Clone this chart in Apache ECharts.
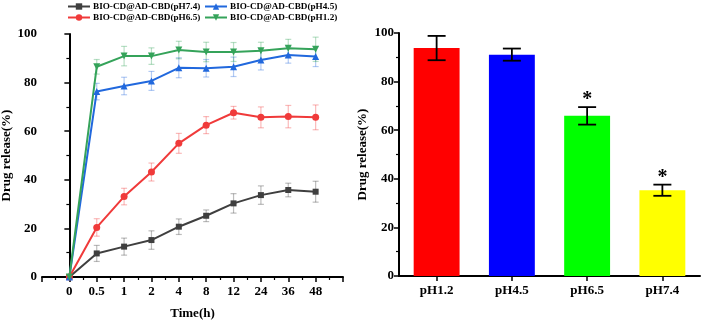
<!DOCTYPE html>
<html><head><meta charset="utf-8">
<script src="https://cdn.jsdelivr.net/npm/echarts@6/dist/echarts.min.js"></script>
<style>html,body{margin:0;padding:0;background:#fff}#c{width:702px;height:321px}</style>
</head><body><div id="c"></div>
<script>
const xLabels = ['0','0.5','1','2','4','8','12','24','36','48'];
const pH74 = [0, 9.7, 12.5, 15.2, 20.7, 25.2, 30.3, 33.7, 35.8, 35.1];
const pH74Err = [0, 3.3, 3.5, 3.8, 3.2, 2.4, 4.0, 3.8, 2.8, 4.3];
const pH65 = [0, 20.4, 33.1, 43.2, 55.0, 62.5, 67.6, 65.7, 66.0, 65.7];
const pH65Err = [0, 3.6, 3.4, 3.7, 4.1, 3.5, 2.6, 4.3, 4.6, 5.1];
const pH45 = [0, 76.3, 78.6, 80.7, 86.1, 85.9, 86.5, 89.3, 91.4, 90.7];
const pH45Err = [0, 3.4, 3.6, 3.9, 4.1, 3.6, 4.0, 4.1, 3.4, 4.1];
const pH12 = [0, 86.5, 90.9, 90.9, 93.4, 92.6, 92.6, 93.1, 94.1, 93.7];
const pH12Err = [0, 3.0, 4.0, 3.4, 3.6, 4.0, 3.9, 3.5, 3.7, 5.0];

const barCats = ['pH1.2', 'pH4.5', 'pH6.5', 'pH7.4'];
const barValues = [93.8, 91.1, 65.9, 35.3];
const barErr = [5.0, 2.5, 3.6, 2.3];
const barStars = ['', '', '*', '*'];
const barColors = ['#ff0000', '#0000ff', '#00ff00', '#ffff00'];

const FONT = 'Liberation Serif';
const chart = echarts.init(document.getElementById('c'), null, {renderer: 'canvas'});

const lineDefs = [
  {name: 'BIO-CD@AD-CBD(pH7.4)', vals: pH74, err: pH74Err, color: '#3f3f3f', errColor: 'rgba(63,63,63,0.35)', symbol: 'rect', size: 6},
  {name: 'BIO-CD@AD-CBD(pH6.5)', vals: pH65, err: pH65Err, color: '#f03a3a', errColor: 'rgba(240,58,58,0.35)', symbol: 'circle', size: 7},
  {name: 'BIO-CD@AD-CBD(pH4.5)', vals: pH45, err: pH45Err, color: '#2168dd', errColor: 'rgba(33,104,221,0.35)', symbol: 'triangle', size: 7},
  {name: 'BIO-CD@AD-CBD(pH1.2)', vals: pH12, err: pH12Err, color: '#35a35a', errColor: 'rgba(53,163,90,0.35)', symbol: 'path://M0,0 L10,0 L5,9 Z', size: 7}
];

function errRender(color, cap, lw, stars) {
  return function (params, api) {
    const x = api.value(0), y = api.value(1), e = api.value(2);
    if (!e) return null;
    const top = api.coord([x, y + e]);
    const bot = api.coord([x, y - e]);
    const children = [
      {type: 'line', shape: {x1: top[0], y1: top[1], x2: bot[0], y2: bot[1]}, style: {stroke: color, lineWidth: lw}},
      {type: 'line', shape: {x1: top[0] - cap, y1: top[1], x2: top[0] + cap, y2: top[1]}, style: {stroke: color, lineWidth: lw}},
      {type: 'line', shape: {x1: bot[0] - cap, y1: bot[1], x2: bot[0] + cap, y2: bot[1]}, style: {stroke: color, lineWidth: lw}}
    ];
    if (stars && stars[params.dataIndex]) {
      children.push({type: 'text', style: {text: stars[params.dataIndex], x: top[0], y: top[1] - 7, align: 'center', verticalAlign: 'middle', fontFamily: FONT, fontWeight: 'bold', fontSize: 20, fill: '#000'}});
    }
    return {type: 'group', children};
  };
}

const series = [];
lineDefs.forEach(d => {
  series.push({
    type: 'custom', xAxisIndex: 0, yAxisIndex: 0, silent: true, z: 1,
    renderItem: errRender(d.errColor, 3, 1.2),
    data: xLabels.map((_, i) => [i, d.vals[i], d.err[i]])
  });
});
lineDefs.forEach(d => {
  series.push({
    name: d.name, type: 'line', xAxisIndex: 0, yAxisIndex: 0, z: 3,
    data: xLabels.map((_, i) => [i, d.vals[i]]),
    symbol: d.symbol, symbolSize: d.size, showAllSymbol: true,
    lineStyle: {color: d.color, width: 2},
    itemStyle: {color: d.color, borderWidth: 0}
  });
});
series.push({
  type: 'bar', xAxisIndex: 1, yAxisIndex: 1, barWidth: '61%',
  data: barValues.map((v, i) => ({value: v, itemStyle: {color: barColors[i]}}))
});
series.push({
  type: 'custom', xAxisIndex: 1, yAxisIndex: 1, z: 5, silent: true,
  renderItem: errRender('#000', 9, 1.8, barStars),
  data: barValues.map((v, i) => [i, v, barErr[i]])
});

const axisText = {fontFamily: FONT, fontWeight: 'bold', fontSize: 13, color: '#000'};
const axisLine = {show: true, lineStyle: {color: '#000', width: 2}};

function yAxis(gridIndex, gap) {
  return {
    type: 'value', gridIndex, min: 0, max: 100, interval: 20,
    name: 'Drug release(%)', nameLocation: 'middle', nameGap: gap, nameRotate: 90,
    nameTextStyle: Object.assign({}, axisText, {fontSize: 13}),
    axisLine, axisTick: {show: true, length: 5, lineStyle: {color: '#000', width: 1.5}},
    minorTick: {show: true, splitNumber: 2, length: 3, lineStyle: {color: '#000', width: 1.2}},
    splitLine: {show: false},
    axisLabel: Object.assign({}, axisText, {margin: 5})
  };
}

const legendText = {fontFamily: FONT, fontWeight: 'bold', fontSize: 9.2, color: '#000', padding: [0, 0, 0, -2]};
chart.setOption({
  animation: false,
  backgroundColor: '#fff',
  textStyle: {fontFamily: FONT},
  legend: [
    {data: [lineDefs[0].name, lineDefs[1].name], left: 67, top: 0, orient: 'vertical', itemGap: 2,
     itemWidth: 22, itemHeight: 8, textStyle: legendText, padding: [2, 0]},
    {data: [lineDefs[2].name, lineDefs[3].name], left: 204, top: 0, orient: 'vertical', itemGap: 2,
     itemWidth: 22, itemHeight: 8, textStyle: legendText, padding: [2, 0]}
  ],
  grid: [
    {left: 42, top: 34, width: 301, height: 243, outerBoundsMode: 'none', containLabel: false},
    {left: 399, top: 33, width: 301, height: 243, outerBoundsMode: 'none', containLabel: false}
  ],
  xAxis: [
    {
      type: 'value', gridIndex: 0, min: -1, max: 10, interval: 1,
      name: 'Time(h)', nameLocation: 'middle', nameGap: 30, nameTextStyle: axisText,
      axisLine, axisTick: {show: true, length: 5, lineStyle: {color: '#000', width: 1.5}},
      minorTick: {show: true, splitNumber: 2, length: 3, lineStyle: {color: '#000', width: 1.2}},
      splitLine: {show: false},
      axisLabel: Object.assign({}, axisText, {margin: 8, formatter: v => (xLabels[v] !== undefined ? xLabels[v] : '')})
    },
    {
      type: 'category', gridIndex: 1, data: barCats,
      axisLine, axisTick: {show: true, alignWithLabel: true, length: 5, lineStyle: {color: '#000', width: 1.5}},
      axisLabel: Object.assign({}, axisText, {margin: 8})
    }
  ],
  yAxis: [yAxis(0, 29), yAxis(1, 30)],
  series
});
</script></body></html>
